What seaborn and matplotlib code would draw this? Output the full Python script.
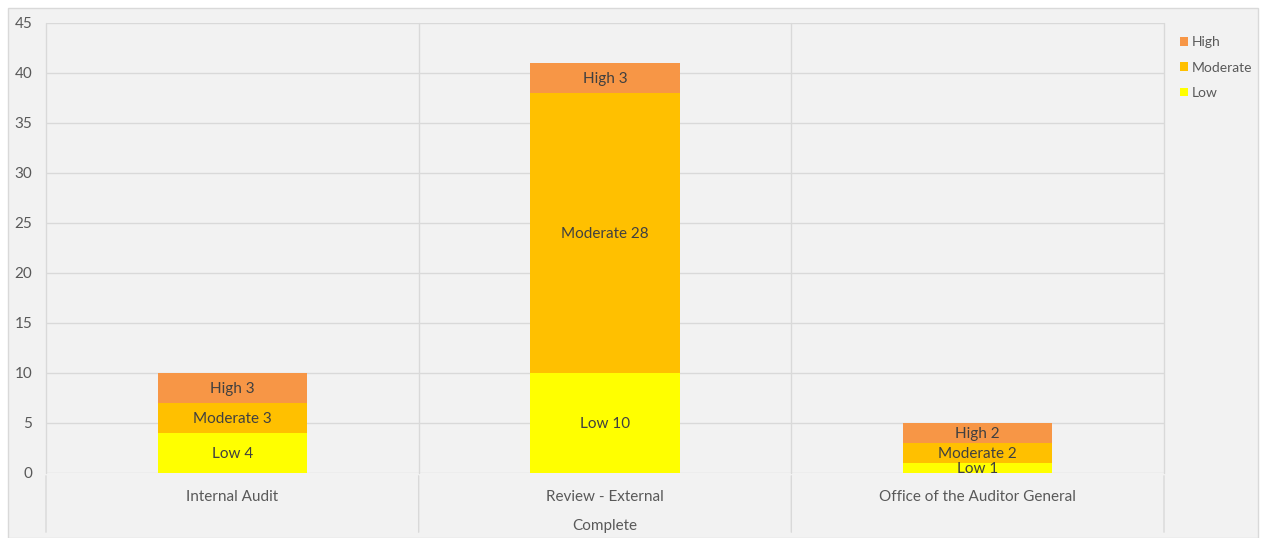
import numpy as np
import pandas as pd
import matplotlib
matplotlib.use("Agg")
import matplotlib.pyplot as plt
import seaborn as sns
from matplotlib.patches import Rectangle, Patch

categories = ["Internal Audit", "Review - External", "Office of the Auditor General"]
low = [4, 10, 1]
moderate = [3, 28, 2]
high = [3, 3, 2]
group_label = "Complete"
levels = ["High", "Moderate", "Low"]
colors = {"High": "#F79646", "Moderate": "#FFC000", "Low": "#FFFF00"}

sns.set_theme(style="white")
plt.rcParams["font.family"] = ["Lato", "DejaVu Sans"]

df = pd.DataFrame({"category": categories, "Low": low, "Moderate": moderate, "High": high})
df["mod_top"] = df["Low"] + df["Moderate"]
df["high_top"] = df["mod_top"] + df["High"]

fig = plt.figure(figsize=(12.63, 5.38), dpi=100)
fig.patch.set_facecolor("white")
fig.patches.append(Rectangle((8 / 1263, 0), 1250 / 1263, 1 - 8 / 538,
                             transform=fig.transFigure, facecolor="#F2F2F2",
                             edgecolor="#D9D9D9", linewidth=1, zorder=-10))

ax = fig.add_axes([46 / 1263, 1 - 473 / 538, 1118 / 1263, 450 / 538])
ax.set_facecolor("#F2F2F2")

# stacked look: draw cumulative totals, biggest first
for col, lvl in [("high_top", "High"), ("mod_top", "Moderate"), ("Low", "Low")]:
    sns.barplot(data=df, x="category", y=col, color=colors[lvl], width=0.4,
                saturation=1, ax=ax, zorder=3, linewidth=0)

# segment labels
for i, row in df.iterrows():
    segs = [("Low", 0, row["Low"]), ("Moderate", row["Low"], row["Moderate"]),
            ("High", row["mod_top"], row["High"])]
    for name, base, val in segs:
        ax.text(i, base + val / 2 - 0.1, f"{name} {val}", ha="center", va="center",
                fontsize=11, color="#404040", zorder=5)

ax.set_ylim(0, 45)
ax.set_xlim(-0.5, 2.5)
ax.set_yticks(np.arange(0, 46, 5))
ax.yaxis.grid(True, color="#D9D9D9", linewidth=1)
ax.set_axisbelow(True)
for s in ax.spines.values():
    s.set_visible(False)
ax.tick_params(axis="y", length=0, pad=10, labelsize=11, labelcolor="#595959")
ax.tick_params(axis="x", length=0, pad=12, labelsize=11, labelcolor="#595959")
ax.set_xlabel("")
ax.set_ylabel("")

# category separators extending below the axis
for xv in [-0.5, 0.5, 1.5, 2.5]:
    ax.plot([xv, xv], [0, 45], color="#D9D9D9", linewidth=1, zorder=1, clip_on=False)
    ax.annotate("", xy=(xv, 0), xytext=(xv, -6.2), xycoords="data",
                arrowprops=dict(arrowstyle="-", color="#D9D9D9", linewidth=1))
ax.text(1, -5.3, group_label, ha="center", va="center", fontsize=11, color="#595959")

handles = [Patch(facecolor=colors[l], edgecolor="none", label=l) for l in levels]
fig.legend(handles=handles, loc="upper left", bbox_to_anchor=(1167 / 1263, 1 - 24 / 538),
           frameon=False, fontsize=10, labelcolor="#595959", handlelength=0.6,
           handleheight=0.6, handletextpad=0.3, labelspacing=0.95)

fig.savefig("out.png", dpi=100)
